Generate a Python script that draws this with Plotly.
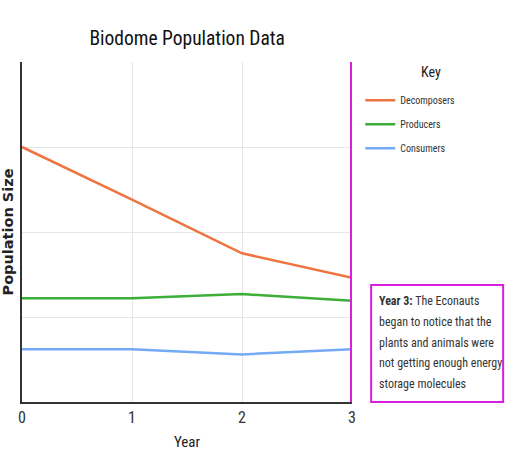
import plotly.graph_objects as go

YEARS = [0, 1, 2, 3]
DECOMPOSERS = [3.0, 2.38, 1.75, 1.46]
PRODUCERS = [1.22, 1.22, 1.27, 1.19]
CONSUMERS = [0.62, 0.62, 0.56, 0.62]

SERIES = [
    ("Decomposers", DECOMPOSERS, "#ee7440"),
    ("Producers", PRODUCERS, "#3cae3a"),
    ("Consumers", CONSUMERS, "#74aaf5"),
]

NOTE_LINES = [
    "<b>Year 3:</b> The Econauts",
    "began to notice that the",
    "plants and animals were",
    "not getting enough energy",
    "storage molecules",
]

NARROW = "Roboto Condensed, Roboto, sans-serif"
MAGENTA = "#d81fe0"

fig = go.Figure()
for i, (name, values, color) in enumerate(SERIES):
    fig.add_trace(go.Scatter(
        x=YEARS, y=values, name=name, mode="lines",
        line=dict(color=color, width=2.5), legendgroup=str(i),
    ))

# marker line for the year 3 note
fig.add_shape(type="line", xref="x", yref="paper", x0=3, x1=3, y0=0, y1=1,
              line=dict(color=MAGENTA, width=4))

# note box, lines placed one by one for the looser line spacing
fig.add_shape(type="rect", xref="paper", yref="paper", x0=1.058, x1=1.458, y0=0.0, y1=0.344,
              line=dict(color=MAGENTA, width=2), fillcolor="white")
for k, line in enumerate(NOTE_LINES):
    fig.add_annotation(text=line, xref="paper", yref="paper", x=1.076, y=0.297 - k * 0.061,
                       xanchor="left", yanchor="middle", showarrow=False,
                       font=dict(family=NARROW, size=12, color="#333"))

fig.add_annotation(text="Key", xref="paper", yref="paper", x=1.24, y=0.97,
                   xanchor="center", yanchor="middle", showarrow=False,
                   font=dict(family=NARROW, size=14, color="#222"))
fig.add_annotation(text="<b>Population Size</b>", xref="paper", yref="paper",
                   x=-0.041, y=0.5, textangle=-90, showarrow=False,
                   xanchor="center", yanchor="middle",
                   font=dict(family="DejaVu Sans, sans-serif", size=14.5, color="#222"))

fig.update_layout(
    width=517, height=461,
    margin=dict(l=22, r=165, t=62, b=59),
    paper_bgcolor="white", plot_bgcolor="white",
    title=dict(text="Biodome Population Data", x=0.362, xanchor="center", y=0.918,
               yanchor="middle", font=dict(family=NARROW, size=19.5, color="#111")),
    showlegend=True,
    legend=dict(x=1.025, y=0.93, xanchor="left", yanchor="top",
                traceorder="grouped", tracegroupgap=5,
                font=dict(family=NARROW, size=10, color="#333")),
    xaxis=dict(range=[0, 3], tickvals=YEARS, showgrid=True, gridcolor="#e6e6e6",
               showline=True, linecolor="#333", linewidth=2, zeroline=False,
               ticks="", tickfont=dict(family=NARROW, size=16, color="#333"),
               title=dict(text="Year", standoff=10,
                          font=dict(family=NARROW, size=15, color="#222"))),
    yaxis=dict(range=[0, 4], dtick=1, showticklabels=False, showgrid=True,
               gridcolor="#e6e6e6", showline=True, linecolor="#333", linewidth=2,
               zeroline=False, ticks=""),
)

# drop the browser's default body margin so the figure sits at the page corner
fig.write_html("out.html", config={"displayModeBar": False},
               post_script="document.body.style.margin = '0';")
